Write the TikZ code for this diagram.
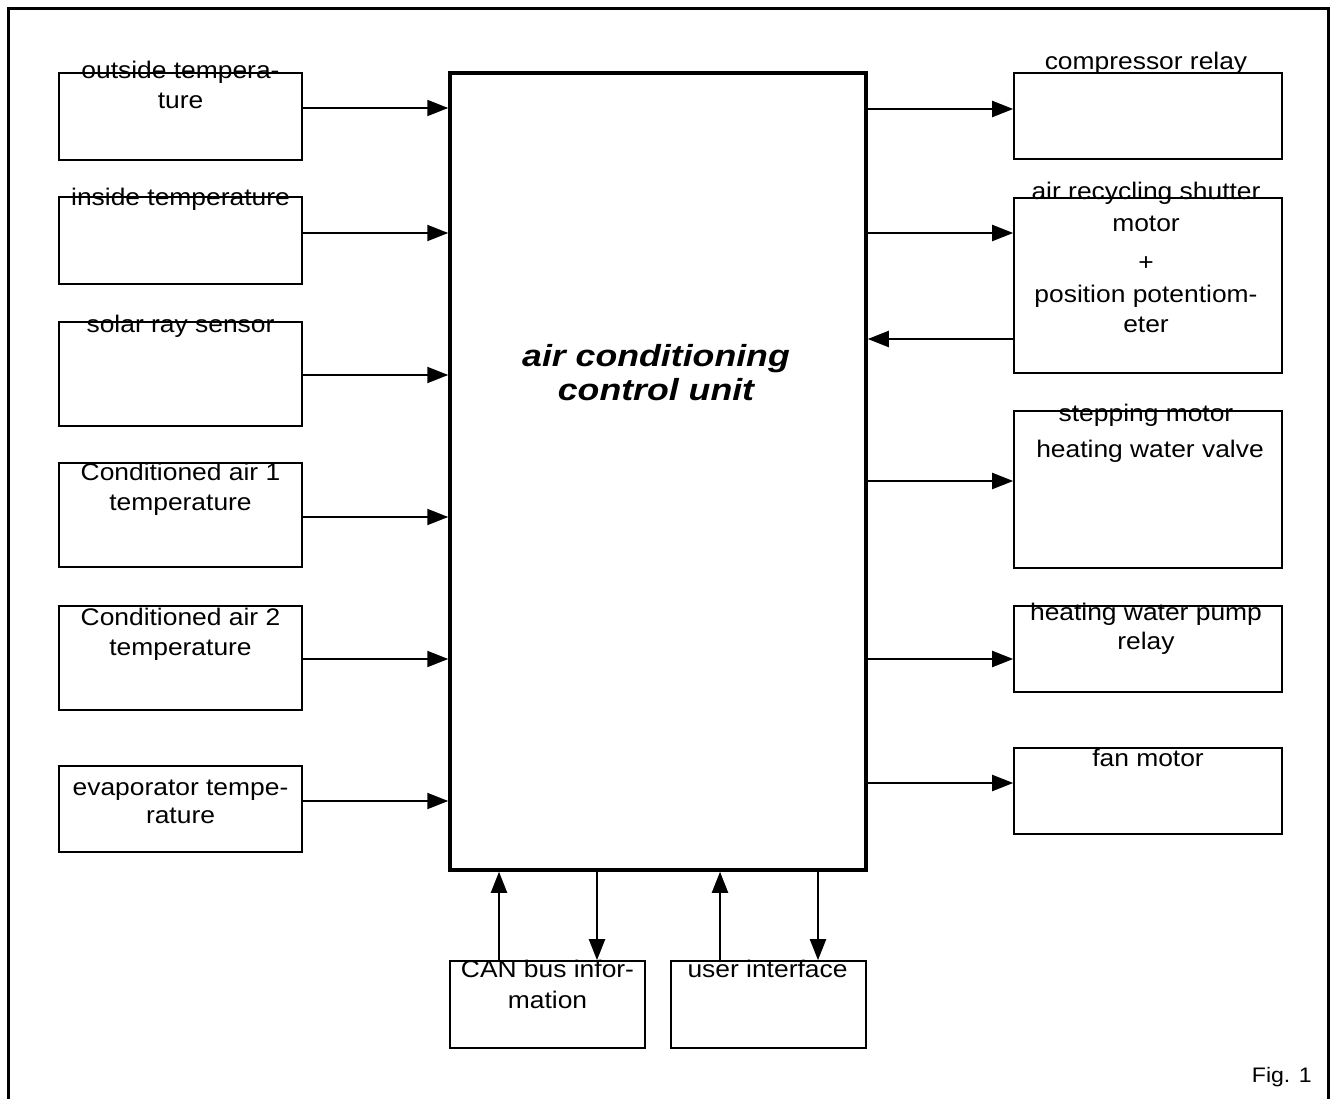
\documentclass[tikz,border=0pt]{standalone}
\usepackage{fontspec}
\setmainfont{Liberation Sans}[FakeStretch=1.1]
\newfontfamily\ctrfont{Liberation Sans}[FakeStretch=1.17]
\usetikzlibrary{arrows.meta}
\begin{document}
\begin{tikzpicture}[x=1pt,y=-1pt,
  box/.style={draw=black,line width=1.6pt,inner sep=0pt,rectangle},
  lbox/.style={box,minimum width=243pt},
  rbox/.style={box,minimum width=268pt},
  bbox/.style={box,minimum width=195pt,minimum height=87pt},
  unit/.style={draw=black,line width=3.5pt,inner sep=0pt,minimum width=416pt,minimum height=797pt},
  arr/.style={line width=2pt,-{Triangle[length=21pt,width=16pt]}},
  lbl/.style={anchor=base,inner sep=0pt,font=\fontsize{24}{30}\selectfont},
  ctr/.style={anchor=base,inner sep=0pt,font=\fontsize{30.5}{34}\ctrfont\bfseries\itshape},
  frame/.style={line width=3pt}
]
\useasboundingbox (0,0) rectangle (1336,1099);
\draw[frame] (8,1099) -- (8,8.5) -- (1328,8.5) -- (1328,1099);

% central unit
\node[unit] (C) at (658,471.5) {};
\node[ctr] (ct1) at (656,366) {air conditioning};
\node[ctr] (ct2) at (656,400) {control unit};

% left boxes
\node[lbox,minimum height=87pt] (L1) at (180.5,116.5) {};
\node[lbox,minimum height=87pt] (L2) at (180.5,240.5) {};
\node[lbox,minimum height=104pt] (L3) at (180.5,374) {};
\node[lbox,minimum height=104pt] (L4) at (180.5,515) {};
\node[lbox,minimum height=104pt] (L5) at (180.5,658) {};
\node[lbox,minimum height=86pt] (L6) at (180.5,809) {};

% right boxes
\node[rbox,minimum height=86pt] (R1) at (1148,116) {};
\node[rbox,minimum height=175pt] (R2) at (1148,285.5) {};
\node[rbox,minimum height=157pt] (R3) at (1148,489.5) {};
\node[rbox,minimum height=86pt] (R4) at (1148,649) {};
\node[rbox,minimum height=86pt] (R5) at (1148,791) {};

% bottom boxes
\node[bbox] (CAN) at (547.5,1004.5) {};
\node[bbox] (UI) at (768.5,1004.5) {};

% left labels
\node[lbl] (tL1a) at (180.5,79) {outside tempera-};
\node[lbl] (tL1b) at (180.5,109) {ture};
\node[lbl] (tL2a) at (180.5,206) {inside temperature};
\node[lbl] (tL3a) at (180.5,332) {solar ray sensor};
\node[lbl] (tL4a) at (180.5,480) {Conditioned air 1};
\node[lbl] (tL4b) at (180.5,510) {temperature};
\node[lbl] (tL5a) at (180.5,625) {Conditioned air 2};
\node[lbl] (tL5b) at (180.5,655) {temperature};
\node[lbl] (tL6a) at (180.5,795) {evaporator tempe-};
\node[lbl] (tL6b) at (180.5,823) {rature};

% right labels
\node[lbl] (tR1a) at (1146,70) {compressor relay};
\node[lbl] (tR2a) at (1146,200) {air recycling shutter};
\node[lbl] (tR2b) at (1146,232) {motor};
\node[lbl] (tR2c) at (1146,271) {+};
\node[lbl] (tR2d) at (1146,303) {position potentiom-};
\node[lbl] (tR2e) at (1146,333) {eter};
\node[lbl] (tR3a) at (1146,421) {stepping motor};
\node[lbl] (tR3b) at (1150,457) {heating water valve};
\node[lbl] (tR4a) at (1146,620) {heating water pump};
\node[lbl] (tR4b) at (1146,649) {relay};
\node[lbl] (tR5a) at (1148,766) {fan motor};

% bottom labels
\node[lbl] (tCa) at (547.5,977) {CAN bus infor-};
\node[lbl] (tCb) at (547.5,1008) {mation};
\node[lbl] (tUa) at (767.5,977) {user interface};

\node[anchor=base east,inner sep=0pt,font=\fontsize{21}{25}\selectfont] (fig) at (1312,1082) {Fig. 1};

% input arrows
\draw[arr] (L1.east |- 0,108) -- (C.west |- 0,108);
\draw[arr] (L2.east |- 0,233) -- (C.west |- 0,233);
\draw[arr] (L3.east |- 0,375) -- (C.west |- 0,375);
\draw[arr] (L4.east |- 0,517) -- (C.west |- 0,517);
\draw[arr] (L5.east |- 0,659) -- (C.west |- 0,659);
\draw[arr] (L6.east |- 0,801) -- (C.west |- 0,801);

% output arrows
\draw[arr] (C.east |- 0,109) -- (R1.west |- 0,109);
\draw[arr] (C.east |- 0,233) -- (R2.west |- 0,233);
\draw[arr] (R2.west |- 0,339) -- (C.east |- 0,339);
\draw[arr] (C.east |- 0,481) -- (R3.west |- 0,481);
\draw[arr] (C.east |- 0,659) -- (R4.west |- 0,659);
\draw[arr] (C.east |- 0,783) -- (R5.west |- 0,783);

% bottom arrows
\draw[arr] (499,0 |- CAN.north) -- (499,0 |- C.south);
\draw[arr] (597,0 |- C.south) -- (597,0 |- CAN.north);
\draw[arr] (720,0 |- UI.north) -- (720,0 |- C.south);
\draw[arr] (818,0 |- C.south) -- (818,0 |- UI.north);
\end{tikzpicture}
\end{document}
